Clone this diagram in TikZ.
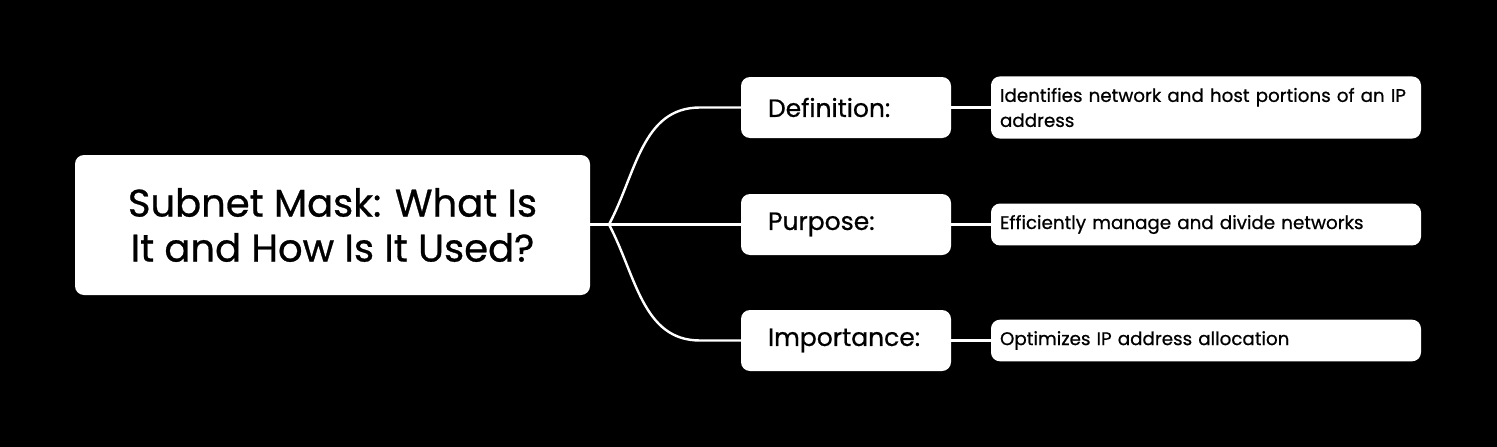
\documentclass[tikz,border=0pt]{standalone}
\usepackage{fontspec}
\setmainfont{Poppins}[FakeBold=0.7]
\usetikzlibrary{positioning}

\begin{document}
\begin{tikzpicture}[x=1pt, y=-1pt,
    root/.style={fill=white, rounded corners=9pt, minimum width=515pt,
        minimum height=140pt, align=center, font=\fontsize{38.5}{45}\selectfont},
    topic/.style={fill=white, rounded corners=9pt, minimum width=210pt, minimum height=61pt,
        text width=156pt, inner xsep=27pt, align=left, font=\fontsize{25}{30}\selectfont},
    note/.style={fill=white, rounded corners=9pt, minimum width=430pt,
        text width=412pt, inner xsep=9pt, inner ysep=11.5pt, align=left, font=\fontsize{18.3}{25}\selectfont},
    link/.style={draw=white, line width=2.4pt}]
    \fill[black] (0,0) rectangle (1497,447);
    \useasboundingbox (0,0) rectangle (1497,447);
    \node[root] (root) at (332.5,225) {Subnet Mask: What Is\\It and How Is It Used?};
    \coordinate (hub) at (609,224.5);
    \draw[link] (root.east |- hub) -- (hub);
    \foreach \i/\y/\a/\t/\n in {def/107.5/62/Definition:/{Identifies network and host portions of an IP address},
                                pur/224.5/0/Purpose:/{Efficiently manage and divide networks},
                                imp/340.5/-62/Importance:/{Optimizes IP address allocation}}{
        \node[topic] (m\i) at (846,\y) {\t};
        \node[note] (n\i) at (1206,\y) {\n};
        \coordinate (k\i) at (700,\y);
        \draw[link] (hub) to[out=\a, in=180] (k\i) -- (m\i.west);
        \draw[link] (m\i.east) -- (n\i.west);}
\end{tikzpicture}
\end{document}
